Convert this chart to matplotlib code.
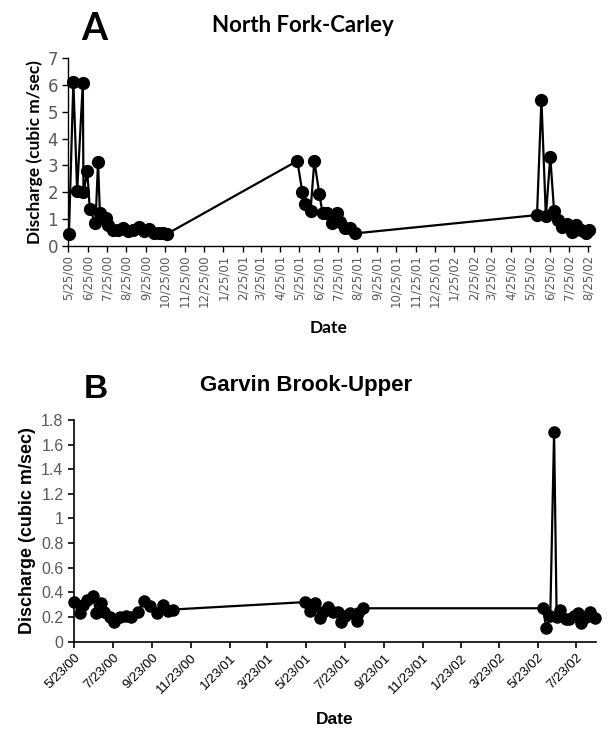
import matplotlib
matplotlib.use("Agg")
import matplotlib.pyplot as plt
import pandas as pd
from matplotlib import font_manager

# ---------------- Data: Panel A (North Fork-Carley) ----------------
dates_a = ["2000-05-26", "2000-06-02", "2000-06-08", "2000-06-17", "2000-06-18", "2000-06-24",
           "2000-06-28", "2000-07-07", "2000-07-11", "2000-07-14", "2000-07-24", "2000-07-27",
           "2000-08-04", "2000-08-12", "2000-08-20", "2000-08-28", "2000-09-05", "2000-09-14",
           "2000-09-22", "2000-09-29", "2000-10-07", "2000-10-15", "2000-10-22", "2000-10-28",
           "2001-05-22", "2001-05-30", "2001-06-04", "2001-06-12", "2001-06-18", "2001-06-26",
           "2001-07-01", "2001-07-08", "2001-07-16", "2001-07-24", "2001-07-29", "2001-08-05",
           "2001-08-13", "2001-08-22",
           "2002-06-05", "2002-06-12", "2002-06-19", "2002-06-26", "2002-07-02", "2002-07-08",
           "2002-07-15", "2002-07-23", "2002-07-30", "2002-08-06", "2002-08-13", "2002-08-21",
           "2002-08-26"]
discharge_a = [0.44, 6.10, 2.06, 6.05, 2.00, 2.78, 1.38, 0.85, 3.14, 1.22, 1.04, 0.80,
               0.60, 0.60, 0.67, 0.58, 0.60, 0.70, 0.58, 0.63, 0.50, 0.50, 0.48, 0.46,
               3.17, 2.02, 1.57, 1.32, 3.16, 1.93, 1.22, 1.22, 0.85, 1.22, 0.91, 0.67,
               0.69, 0.48,
               1.16, 5.44, 1.12, 3.32, 1.31, 0.98, 0.73, 0.83, 0.54, 0.78, 0.60, 0.48, 0.60]

# ---------------- Data: Panel B (Garvin Brook-Upper) ----------------
dates_b = ["2000-05-23", "2000-06-01", "2000-06-06", "2000-06-13", "2000-06-22", "2000-06-27",
           "2000-07-05", "2000-07-10", "2000-07-18", "2000-07-25", "2000-08-03", "2000-08-13",
           "2000-08-21", "2000-09-01", "2000-09-11", "2000-09-19", "2000-09-30", "2000-10-10",
           "2000-10-18", "2000-10-26",
           "2001-05-21", "2001-05-29", "2001-06-06", "2001-06-14", "2001-06-19", "2001-06-27",
           "2001-07-05", "2001-07-13", "2001-07-18", "2001-07-23", "2001-07-31", "2001-08-11",
           "2001-08-13", "2001-08-21",
           "2002-05-31", "2002-06-06", "2002-06-12", "2002-06-18", "2002-06-22", "2002-06-28",
           "2002-07-06", "2002-07-12", "2002-07-20", "2002-07-25", "2002-07-31", "2002-08-07",
           "2002-08-13", "2002-08-21"]
discharge_b = [0.32, 0.23, 0.30, 0.34, 0.37, 0.23, 0.31, 0.24, 0.20, 0.16, 0.20, 0.21,
               0.20, 0.24, 0.33, 0.29, 0.23, 0.30, 0.25, 0.26,
               0.32, 0.25, 0.31, 0.19, 0.24, 0.28, 0.24, 0.24, 0.16, 0.21, 0.23, 0.17,
               0.23, 0.27,
               0.27, 0.11, 0.21, 1.70, 0.20, 0.26, 0.18, 0.18, 0.21, 0.23, 0.15, 0.20,
               0.24, 0.19]

ticks_a_start, ticks_a_end = "2000-05-01", "2002-08-25"
ticks_b = ["2000-05-23", "2000-07-23", "2000-09-23", "2000-11-23", "2001-01-23", "2001-03-23",
           "2001-05-23", "2001-07-23", "2001-09-23", "2001-11-23", "2002-01-23", "2002-03-23",
           "2002-05-23", "2002-07-23"]

# ---------------- Fonts ----------------
avail = {f.name for f in font_manager.fontManager.ttflist}
narrow = "Liberation Sans Narrow" if "Liberation Sans Narrow" in avail else "DejaVu Sans"
calib = "Lato" if "Lato" in avail else "DejaVu Sans"
arial = "Liberation Sans" if "Liberation Sans" in avail else "DejaVu Sans"

W, H = 613, 732
fig = plt.figure(figsize=(W / 100, H / 100), dpi=100)

def ax_rect(l, t, r, b):
    return [l / W, 1 - b / H, (r - l) / W, (b - t) / H]

gray = "#595959"

# ---------------- Panel A ----------------
ax1 = fig.add_axes(ax_rect(68.3, 57.7, 589.5, 246.3))
da = pd.to_datetime(dates_a)
ax1.plot(da, discharge_a, color="black", lw=1.6, marker="o", ms=8.5, zorder=3, clip_on=False)
ax1.set_xlim(pd.Timestamp("2000-05-25"), pd.Timestamp("2002-08-27"))
ax1.set_ylim(0, 7)
ax1.set_yticks(range(0, 8))
ta = pd.date_range(ticks_a_start, ticks_a_end, freq="MS") + pd.Timedelta(days=24)
ax1.set_xticks(ta)
ax1.set_xticklabels([f"{d.month}/{d.day}/{d.strftime('%y')}" for d in ta], rotation=90,
                    fontsize=8.5, color=gray, family=narrow)
for lab in ax1.get_yticklabels():
    lab.set_fontsize(12); lab.set_color(gray); lab.set_family(narrow)
for s in ["top", "right"]:
    ax1.spines[s].set_visible(False)
for s in ["left", "bottom"]:
    ax1.spines[s].set_color("black"); ax1.spines[s].set_linewidth(1.0)
ax1.tick_params(axis="both", direction="out", length=4, width=1, color="black")
ax1.tick_params(axis="x", pad=2)
ax1.set_ylabel("Discharge (cubic m/sec)", fontsize=12.5, fontweight="bold", family=calib, labelpad=3)
ax1.set_xlabel("Date", fontsize=12.5, fontweight="bold", family=calib, labelpad=9)
fig.text(94 / W, 1 - 29 / H, "A", fontsize=27, fontweight="bold", family=calib, ha="center", va="center")
fig.text(303 / W, 1 - 25 / H, "North Fork-Carley", fontsize=16, fontweight="bold", family=calib,
         ha="center", va="center")

# ---------------- Panel B ----------------
ax2 = fig.add_axes(ax_rect(74, 420, 596, 641.5))
db = pd.to_datetime(dates_b)
ax2.plot(db, discharge_b, color="black", lw=1.6, marker="o", ms=8, zorder=3, clip_on=False)
ax2.set_xlim(pd.Timestamp("2000-05-23"), pd.Timestamp("2002-08-23"))
ax2.set_ylim(0, 1.8)
yb = [0, 0.2, 0.4, 0.6, 0.8, 1, 1.2, 1.4, 1.6, 1.8]
ax2.set_yticks(yb)
ax2.set_yticklabels([f"{v:g}" for v in yb], fontsize=11.5, color=gray, family=arial)
tb = pd.to_datetime(ticks_b)
ax2.set_xticks(tb)
ax2.set_xticklabels([f"{d.month}/{d.day}/{d.strftime('%y')}" for d in tb], rotation=45,
                    ha="right", rotation_mode="anchor", fontsize=9.5, color="black", family=arial)
for s in ["top", "right"]:
    ax2.spines[s].set_visible(False)
for s in ["left", "bottom"]:
    ax2.spines[s].set_color("black"); ax2.spines[s].set_linewidth(1.2)
ax2.tick_params(axis="both", direction="out", length=4, width=1.2, color="black")
ax2.set_ylabel("Discharge (cubic m/sec)", fontsize=13, fontweight="bold", family=arial, labelpad=4)
ax2.set_xlabel("Date", fontsize=12.5, fontweight="bold", family=arial, labelpad=11)
fig.text(96 / W, 1 - 390 / H, "B", fontsize=24, fontweight="bold", family=arial, ha="center", va="center")
fig.text(306 / W, 1 - 386 / H, "Garvin Brook-Upper", fontsize=16, fontweight="bold", family=arial,
         ha="center", va="center")

fig.savefig("out.png", dpi=100)
